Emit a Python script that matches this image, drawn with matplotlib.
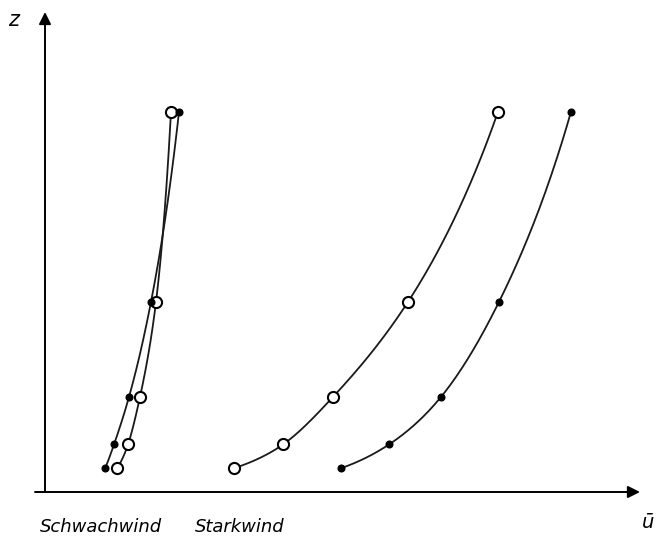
import numpy as np
import matplotlib
matplotlib.use("Agg")
import matplotlib.pyplot as plt

# heights (relative units) and wind speeds (relative units)
z = [0.25, 0.5, 1.0, 2.0, 4.0]
u_schwach_open = [1.44, 1.66, 1.90, 2.22, 2.52]
u_schwach_filled = [1.20, 1.38, 1.68, 2.12, 2.68]
u_stark_open = [3.78, 4.76, 5.76, 7.26, 9.06]
u_stark_filled = [5.92, 6.88, 7.92, 9.08, 10.52]

label_schwach = "Schwachwind"
label_stark = "Starkwind"


def smooth(zs, us, n=200):
    """Natural cubic spline u(log z) for drawing a smooth profile line."""
    t = np.log(np.asarray(zs, float))
    y = np.asarray(us, float)
    m = len(t)
    h = np.diff(t)
    A = np.zeros((m, m))
    b = np.zeros(m)
    A[0, 0] = A[-1, -1] = 1
    for i in range(1, m - 1):
        A[i, i - 1] = h[i - 1]
        A[i, i] = 2 * (h[i - 1] + h[i])
        A[i, i + 1] = h[i]
        b[i] = 3 * ((y[i + 1] - y[i]) / h[i] - (y[i] - y[i - 1]) / h[i - 1])
    c = np.linalg.solve(A, b)
    tt = np.linspace(t[0], t[-1], n)
    out = np.empty_like(tt)
    for k, x in enumerate(tt):
        i = min(np.searchsorted(t, x, side="right") - 1, m - 2)
        dx = x - t[i]
        bi = (y[i + 1] - y[i]) / h[i] - h[i] * (2 * c[i] + c[i + 1]) / 3
        di = (c[i + 1] - c[i]) / (3 * h[i])
        out[k] = y[i] + bi * dx + c[i] * dx ** 2 + di * dx ** 3
    return out, np.exp(tt)


W, H = 660, 542
fig = plt.figure(figsize=(W / 100, H / 100), dpi=100)
fig.patch.set_facecolor("white")
ax = fig.add_axes([45 / W, 50 / H, 595 / W, 480 / H])
ax.set_xlim(0, 11.9)
ax.set_ylim(0, 5.05)
ax.axis("off")

lc = "#1a1a1a"
for us, filled in [(u_schwach_open, False), (u_schwach_filled, True),
                   (u_stark_open, False), (u_stark_filled, True)]:
    su, sz = smooth(z, us)
    ax.plot(su, sz, color=lc, lw=1.3, zorder=2, solid_capstyle="round")
    if filled:
        ax.plot(us, z, "o", ms=4.8, color="black", mec="black", zorder=3)
    else:
        ax.plot(us, z, "o", ms=8, mfc="white", mec="black", mew=1.5, zorder=3)

# axes with arrows
ax.annotate("", xy=(0, 1.0), xytext=(0, 0), xycoords="axes fraction",
            arrowprops=dict(arrowstyle="-|>", color="black", lw=1.4,
                            mutation_scale=18, shrinkA=0, shrinkB=0),
            annotation_clip=False)
ax.annotate("", xy=(1.0, 0), xytext=(-10 / 595, 0), xycoords="axes fraction",
            arrowprops=dict(arrowstyle="-|>", color="black", lw=1.4,
                            mutation_scale=18, shrinkA=0, shrinkB=0),
            annotation_clip=False)

fig.text(14 / W, 1 - 20 / H, "z", fontsize=15, style="italic",
         ha="center", va="center", family="DejaVu Sans")
fig.text(648 / W, 1 - 522 / H, "ū", fontsize=14, style="italic",
         ha="center", va="center", family="DejaVu Sans")
fig.text(40 / W, 1 - 527 / H, label_schwach, fontsize=13, style="italic",
         ha="left", va="center", family="DejaVu Sans")
fig.text(195 / W, 1 - 527 / H, label_stark, fontsize=13, style="italic",
         ha="left", va="center", family="DejaVu Sans")

fig.savefig("out.png", dpi=100, facecolor="white")
